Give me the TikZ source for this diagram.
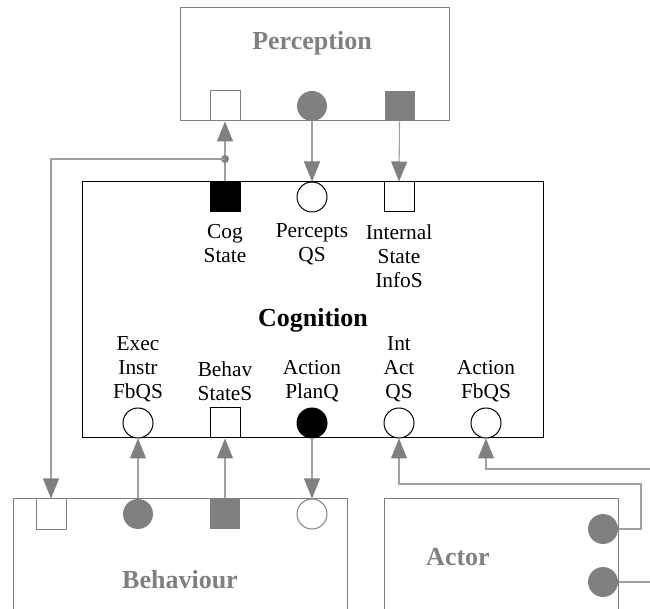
\documentclass[tikz,border=0pt]{standalone}
\usepackage{fontspec}
\setmainfont{Liberation Serif}
\usetikzlibrary{arrows.meta}
\definecolor{portgray}{HTML}{808080}
\definecolor{linegray}{HTML}{A0A0A0}

\begin{document}
\begin{tikzpicture}[x=0.75pt,y=-0.75pt,
  modbox/.style={draw=portgray, line width=0.75pt, inner sep=0, fill=none},
  cogbox/.style={draw=black, line width=0.75pt, inner sep=0},
  title/.style={font=\bfseries\fontsize{19.5pt}{22pt}\selectfont, inner sep=0},
  lbl/.style={font=\fontsize{16pt}{18pt}\selectfont, align=center, inner sep=0},
  sqport/.style={rectangle, minimum size=22.5pt, inner sep=0, line width=0.75pt},
  ciport/.style={circle, minimum size=22.5pt, inner sep=0, line width=0.75pt},
  conn/.style={draw=linegray, line width=0.8pt,
    -{Triangle[length=15pt, width=12pt, color=portgray, fill=portgray]}},
  plain/.style={draw=linegray, line width=0.8pt}]
\clip (0,0) rectangle (650,609);

% module boxes
\node[modbox, minimum width=201.75pt, minimum height=84.75pt] (perc) at (314.5,64.5) {};
\node[cogbox, minimum width=345.75pt, minimum height=192pt] (cog) at (312.5,310) {};
\node[modbox, minimum width=250.5pt, minimum height=150pt] (beh) at (180,599) {};
\node[modbox, minimum width=175.5pt, minimum height=150pt] (act) at (501,599) {};

% titles
\node[title, text=portgray] (perct) at (312,43) {Perception};
\node[title] (cogt) at (313,320) {Cognition};
\node[title, text=portgray] (beht) at (180,580) {Behaviour};
\node[title, text=portgray] (actt) at (458,557) {Actor};

% Perception ports
\node[sqport, draw=portgray, fill=white] (psq) at (225,106) {};
\node[ciport, fill=portgray] (pci) at (312,106) {};
\node[sqport, fill=portgray] (pgs) at (399.5,106) {};

% Cognition ports, top
\node[sqport, draw=black, fill=black] (cst) at (225,197) {};
\node[ciport, draw=black, fill=white] (cpq) at (312,197) {};
\node[sqport, draw=black, fill=white] (cis) at (399,197) {};

% Cognition ports, bottom
\node[ciport, draw=black, fill=white] (ceif) at (138,423) {};
\node[sqport, draw=black, fill=white] (cbs) at (225,423) {};
\node[ciport, draw=black, fill=black] (capq) at (312,423) {};
\node[ciport, draw=black, fill=white] (ciaq) at (399,423) {};
\node[ciport, draw=black, fill=white] (cafb) at (486,423) {};

% Behaviour ports
\node[sqport, draw=portgray, fill=white] (bws) at (51,514) {};
\node[ciport, fill=portgray] (bgc) at (138,514) {};
\node[sqport, fill=portgray] (bgs) at (225,514) {};
\node[ciport, draw=portgray, fill=white] (bwc) at (312,514) {};

% Actor ports
\node[ciport, fill=portgray] (ac1) at (603,529) {};
\node[ciport, fill=portgray] (ac2) at (603,582) {};

% port labels
\node[lbl] (lcst) at (225,244) {Cog\\State};
\node[lbl] (lcpq) at (312,244) {Percepts\\QS};
\node[lbl] (lcis) at (399,256) {Internal\\State\\InfoS};
\node[lbl] (lceif) at (138,369) {Exec\\Instr\\FbQS};
\node[lbl] (lcbs) at (225,381) {Behav\\StateS};
\node[lbl] (lcapq) at (312,381) {Action\\PlanQ};
\node[lbl] (lciaq) at (399,369) {Int\\Act\\QS};
\node[lbl] (lcafb) at (486,381) {Action\\FbQS};

% connectors
\coordinate (split) at (225,159);
\draw[conn] (cst.north) -- (psq.south);
\fill[portgray] (split) circle (3pt);
\draw[conn] (split) -| (bws.north);
\draw[conn] (pci.south) -- (cpq.north);
\draw[conn] (pgs.south) -- (cis.north);
\draw[conn] (bgc.north) -- (ceif.south);
\draw[conn] (bgs.north) -- (cbs.south);
\draw[conn] (capq.south) -- (bwc.north);

\coordinate (r1) at (641,529);
\coordinate (r2) at (641,484);
\draw[conn] (ac1.east) -- (r1) -- (r2) -| (ciaq.south);
\coordinate (eastin) at (652,469);
\draw[conn] (eastin) -| (cafb.south);
\coordinate (eastout) at (652,582);
\draw[plain] (ac2.east) -- (eastout);
\end{tikzpicture}
\end{document}
